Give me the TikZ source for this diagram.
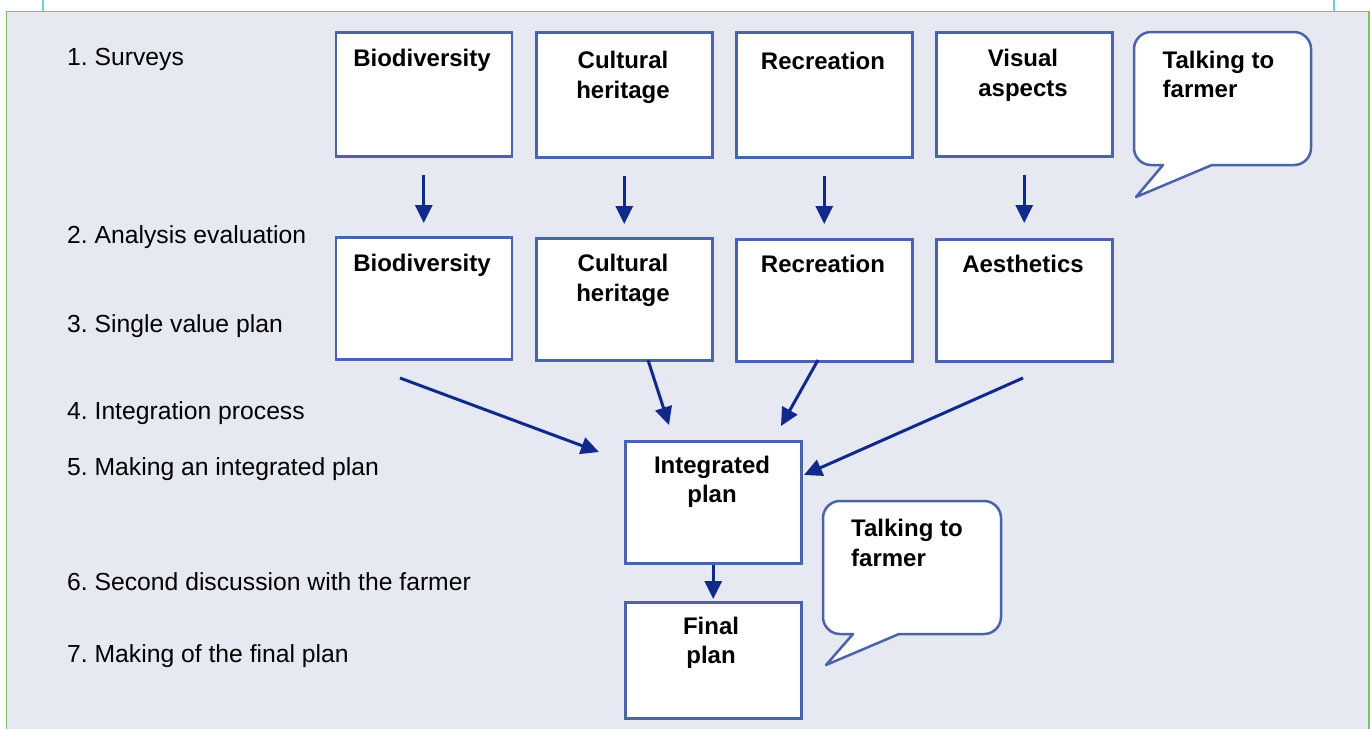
\documentclass[tikz,border=0pt]{standalone}
\usepackage{fontspec}
\setmainfont{Liberation Sans}
\usetikzlibrary{arrows.meta}
\definecolor{panelfill}{HTML}{E6E9F2}
\definecolor{boxblue}{HTML}{4B63AA}
\definecolor{arrowblue}{HTML}{10298A}
\definecolor{framegreen}{HTML}{7BC35A}
\definecolor{rulecyan}{HTML}{6DCFD9}
\frenchspacing
% stacked lines whose baseline is the first line
\newcommand\stackc[1]{\begin{tabular}[t]{@{}c@{}}#1\end{tabular}}
\newcommand\stackl[1]{\begin{tabular}[t]{@{}l@{}}#1\end{tabular}}
\tikzset{
  box/.style={draw=boxblue, fill=white, line width=2.5pt, inner sep=0pt,
    minimum width=176pt, anchor=north west},
  boxtext/.style={anchor=base, inner sep=0pt,
    font=\bfseries\fontsize{24}{29.5}\selectfont},
  steplabel/.style={anchor=base west, inner sep=0pt,
    font=\fontsize{24.7}{29.5}\selectfont},
  arr/.style={draw=arrowblue, line width=3pt,
    -{Triangle[length=18pt,width=17pt]}},
  bubble/.style={draw=boxblue, fill=white, line width=2.5pt, line join=round}
}
\begin{document}
\begin{tikzpicture}[x=1pt,y=-1pt]
\useasboundingbox (0,0) rectangle (1370,729);
\fill[white] (0,0) rectangle (1370,729);
% panel
\fill[panelfill] (6.5,11.5) rectangle (1369,729);
\draw[framegreen, line width=1.5pt] (6.5,729) -- (6.5,11.5) -- (1369,11.5) -- (1369,729);
\draw[rulecyan, line width=1.5pt] (43,0) -- (43,10.8);
\draw[rulecyan, line width=1.5pt] (1334,0) -- (1334,10.8);

% step labels
\node[steplabel] (l1) at (67,65) {1. Surveys};
\node[steplabel] (l2) at (67,243.5) {2. Analysis evaluation};
\node[steplabel] (l3) at (67,332.5) {3. Single value plan};
\node[steplabel] (l4) at (67,419.5) {4. Integration process};
\node[steplabel] (l5) at (67,475.5) {5. Making an integrated plan};
\node[steplabel] (l6) at (67,590.5) {6. Second discussion with the farmer};
\node[steplabel] (l7) at (67,662.5) {7. Making of the final plan};

% survey boxes
\node[box, minimum height=124pt] (bio1) at (334.5,31) {};
\node[box, minimum height=125pt] (cul1) at (535,31) {};
\node[box, minimum height=125pt] (rec1) at (735,31) {};
\node[box, minimum height=124pt] (vis1) at (935,31) {};
\node[boxtext] (bio1t) at (422,66.7) {Biodiversity};
\node[boxtext] (cul1t) at (623,68.5) {\stackc{Cultural\\heritage}};
\node[boxtext] (rec1t) at (823,69.5) {Recreation};
\node[boxtext] (vis1t) at (1023,66.5) {\stackc{Visual\\aspects}};

% analysis boxes
\node[box, minimum height=122pt] (bio2) at (334.5,236) {};
\node[box, minimum height=122pt] (cul2) at (535,237) {};
\node[box, minimum height=122pt] (rec2) at (735,238) {};
\node[box, minimum height=122pt] (aes2) at (935,238) {};
\node[boxtext] (bio2t) at (422,271.7) {Biodiversity};
\node[boxtext] (cul2t) at (623,271.5) {\stackc{Cultural\\heritage}};
\node[boxtext] (rec2t) at (823,272.5) {Recreation};
\node[boxtext] (aes2t) at (1023,272.5) {Aesthetics};

% integrated and final plan
\node[box, minimum height=122pt] (int) at (624,440) {};
\node[box, minimum height=116pt] (fin) at (624,601) {};
\node[boxtext] (intt) at (712,473.3) {\stackc{Integrated\\plan}};
\node[boxtext] (fint) at (711,634.3) {\stackc{Final\\plan}};

% speech bubbles
\draw[bubble] (1163,165) -- (1151,165) arc[start angle=90,end angle=180,radius=17]
  -- (1134,49) arc[start angle=180,end angle=270,radius=17]
  -- (1294,32) arc[start angle=270,end angle=360,radius=17]
  -- (1311,148) arc[start angle=0,end angle=90,radius=17]
  -- (1212,165) -- (1136,197) -- cycle;
\node[boxtext, anchor=base west] (talk1) at (1162.5,68.3) {\stackl{Talking to\\farmer}};
\draw[bubble] (853,634) -- (840,634) arc[start angle=90,end angle=180,radius=17]
  -- (823,518) arc[start angle=180,end angle=270,radius=17]
  -- (984,501) arc[start angle=270,end angle=360,radius=17]
  -- (1001,617) arc[start angle=0,end angle=90,radius=17]
  -- (899,634) -- (826,665) -- cycle;
\node[boxtext, anchor=base west] (talk2) at (851,536.7) {\stackl{Talking to\\farmer}};

% survey -> analysis
\draw[arr, shorten <=17pt, shorten >=13pt] (bio1.south) -- (bio2.north);
\draw[arr, shorten <=17pt, shorten >=13pt] (cul1.south) -- (cul2.north);
\draw[arr, shorten <=17pt, shorten >=14pt] (rec1.south) -- (rec2.north);
\draw[arr, shorten <=17pt, shorten >=15pt] (vis1.south) -- (aes2.north);

% analysis -> integrated plan
\coordinate (d1s) at (400,378);  \coordinate (d1t) at (599,452);
\coordinate (d2s) at (648,360);  \coordinate (d2t) at (669,425);
\coordinate (d3s) at (818,360);  \coordinate (d3t) at (781,426);
\coordinate (d4s) at (1023,378); \coordinate (d4t) at (804,475);
\draw[arr] (d1s) -- (d1t);
\draw[arr] (d2s) -- (d2t);
\draw[arr] (d3s) -- (d3t);
\draw[arr] (d4s) -- (d4t);

% integrated -> final
\draw[arr, shorten >=2pt] (int.south) -- (fin.north);
\end{tikzpicture}
\end{document}
